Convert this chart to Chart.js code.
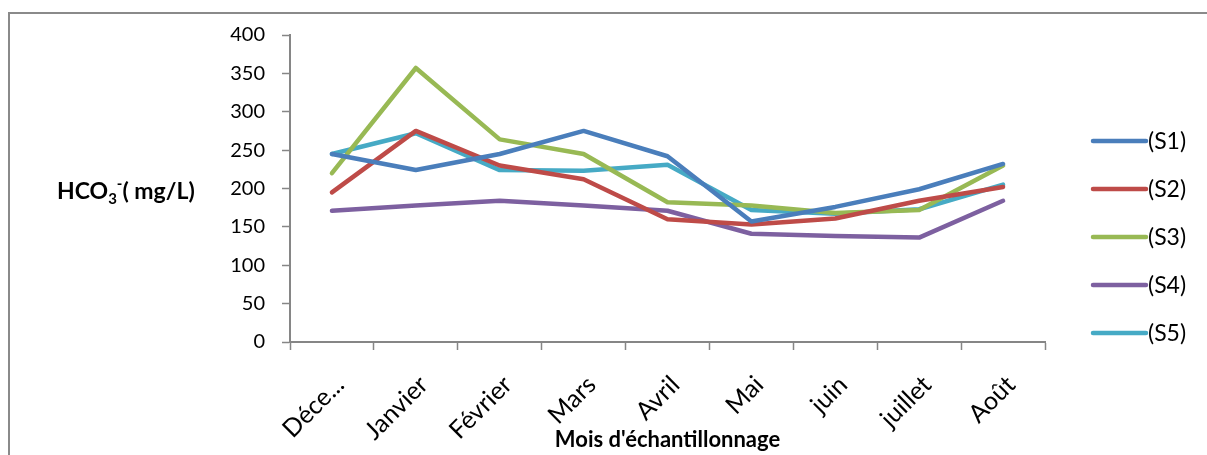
<!DOCTYPE html>
<html>
<head>
<meta charset="utf-8">
<script src="https://cdn.jsdelivr.net/npm/chart.js@4"></script>
<style>
  html, body { margin: 0; padding: 0; background: #fff; }
  #wrap { position: relative; width: 1207px; height: 455px; }
</style>
</head>
<body>
<div id="wrap"><canvas id="c" width="1207" height="455"></canvas></div>
<script>
const months = ["Déce...", "Janvier", "Février", "Mars", "Avril", "Mai", "juin", "juillet", "Août"];
const seriesNames = ["(S1)", "(S2)", "(S3)", "(S4)", "(S5)"];
const s1 = [245, 224, 245, 275, 242, 157, 176, 199, 232];
const s2 = [195, 275, 230, 212, 160, 153, 161, 184, 202];
const s3 = [220, 357, 264, 245, 182, 178, 168, 172, 230];
const s4 = [171, 178, 184, 178, 171, 141, 138, 136, 184];
const s5 = [245, 272, 224, 223, 231, 172, 167, 173, 205];
const seriesColors = ["#4A7EBB", "#BE4B48", "#98B954", "#7D60A0", "#46AAC5"];
const yTitleParts = { main: "HCO", sub: "3", sup: "-", rest: "( mg/L)" };
const xTitle = "Mois d'échantillonnage";

const FONT = "Lato, 'Open Sans', sans-serif";
const allSeries = [s1, s2, s3, s4, s5];

const framePlugin = {
  id: 'frame',
  beforeDraw(chart) {
    const ctx = chart.ctx;
    ctx.save();
    ctx.strokeStyle = '#8a8a8a';
    ctx.lineWidth = 2;
    ctx.beginPath();
    ctx.moveTo(9, 455);
    ctx.lineTo(9, 13);
    ctx.lineTo(1207, 13);
    ctx.stroke();
    ctx.restore();
  }
};

const yTitlePlugin = {
  id: 'ytitle',
  afterDraw(chart) {
    const ctx = chart.ctx;
    ctx.save();
    ctx.fillStyle = '#000';
    ctx.textBaseline = 'alphabetic';
    const big = "bold 23px " + FONT;
    const small = "bold 15px " + FONT;
    let x = 57;
    const base = 199;
    ctx.font = big;
    ctx.fillText(yTitleParts.main, x, base);
    x += ctx.measureText(yTitleParts.main).width;
    ctx.font = small;
    ctx.fillText(yTitleParts.sub, x, base + 5);
    const wSub = ctx.measureText(yTitleParts.sub).width;
    ctx.fillText(yTitleParts.sup, x + wSub, base - 10);
    x += wSub + ctx.measureText(yTitleParts.sup).width;
    ctx.font = big;
    ctx.fillText(yTitleParts.rest, x, base);
    ctx.restore();
  }
};

const legendPlugin = {
  id: 'customLegend',
  afterDraw(chart) {
    const ctx = chart.ctx;
    ctx.save();
    chart.data.datasets.forEach((ds, i) => {
      const y = 141 + i * 48;
      ctx.strokeStyle = ds.borderColor;
      ctx.lineWidth = 4.5;
      ctx.lineCap = 'round';
      ctx.beginPath();
      ctx.moveTo(1093, y);
      ctx.lineTo(1146, y);
      ctx.stroke();
      ctx.fillStyle = '#000';
      ctx.font = "23px " + FONT;
      ctx.textBaseline = 'middle';
      ctx.fillText(ds.label, 1148, y + 1);
    });
    ctx.restore();
  }
};

new Chart(document.getElementById('c'), {
  type: 'line',
  data: {
    labels: months,
    datasets: allSeries.map((d, i) => ({
      label: seriesNames[i],
      data: d,
      borderColor: seriesColors[i],
      backgroundColor: seriesColors[i],
      borderWidth: 4.5,
      pointRadius: 0,
      pointHoverRadius: 0,
      tension: 0,
      borderJoinStyle: 'round',
      borderCapStyle: 'round',
      fill: false
    }))
  },
  options: {
    responsive: false,
    animation: false,
    devicePixelRatio: 1,
    layout: { padding: { left: 0, right: 162, top: 35, bottom: 0 } },
    plugins: {
      legend: { display: false },
      tooltip: { enabled: false },
      title: { display: false }
    },
    scales: {
      x: {
        offset: true,
        grid: {
          offset: true,
          drawOnChartArea: false,
          drawTicks: true,
          tickLength: 8,
          tickColor: '#868686',
          tickWidth: 1.5
        },
        border: { color: '#868686', width: 2 },
        ticks: {
          autoSkip: false,
          maxRotation: 45,
          minRotation: 45,
          color: '#000',
          padding: 20,
          labelOffset: 8,
          font: { family: FONT, size: 25 }
        },
        title: {
          display: true,
          text: xTitle,
          color: '#000',
          font: { family: FONT, size: 22, weight: 'bold' },
          padding: { top: 0, bottom: 2 }
        },
        afterFit(scale) { scale.height = 113; }
      },
      y: {
        min: 0,
        max: 400,
        grid: {
          drawOnChartArea: false,
          drawTicks: true,
          tickLength: 8,
          tickColor: '#868686',
          tickWidth: 1.5
        },
        border: { color: '#868686', width: 2 },
        ticks: {
          stepSize: 50,
          color: '#000',
          padding: 17,
          font: { family: FONT, size: 20 }
        },
        afterFit(scale) { scale.width = 290; }
      }
    }
  },
  plugins: [framePlugin, yTitlePlugin, legendPlugin]
});
</script>
</body>
</html>
